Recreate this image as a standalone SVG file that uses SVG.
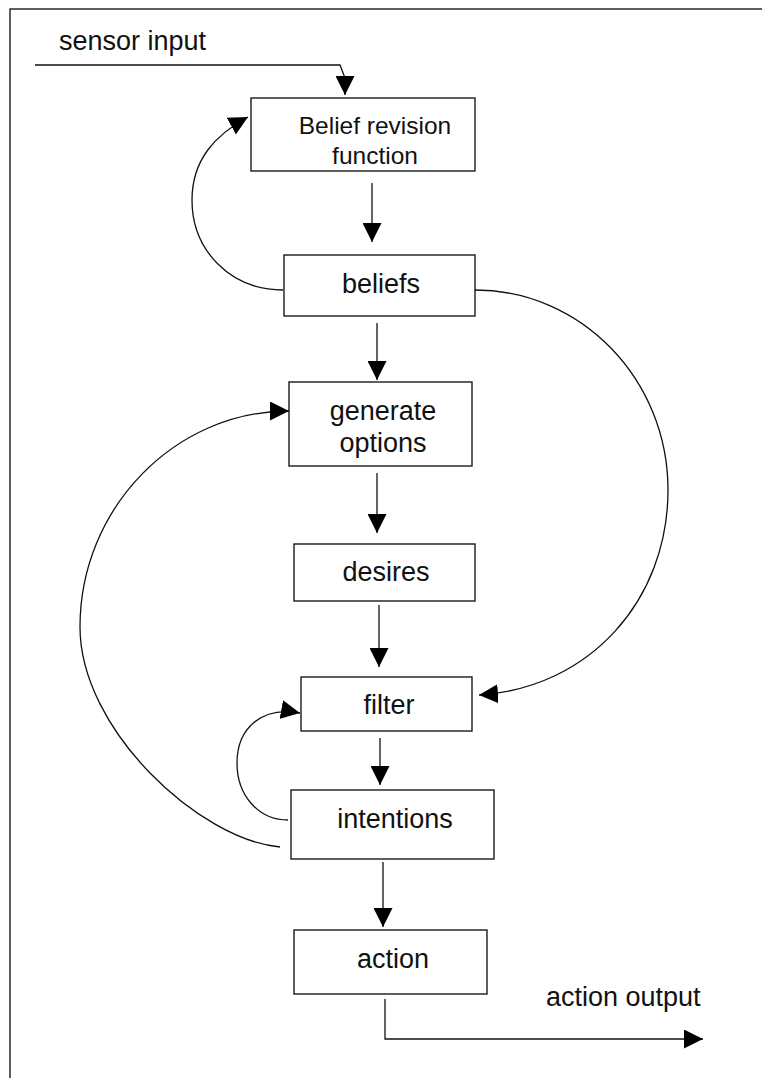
<svg xmlns="http://www.w3.org/2000/svg" width="762" height="1078" viewBox="0 0 762 1078">
  <style>
    .box { fill: #ffffff; stroke: #1a1a1a; stroke-width: 1.4; }
    .lbl { font-family: "Liberation Sans", Arial, sans-serif; font-size: 27px; fill: #111; text-anchor: middle; }
    .small { font-size: 24.5px; }
    .free { text-anchor: start; }
    .edge { fill: none; stroke: #111; stroke-width: 1.3; marker-end: url(#head); }
  </style>
  <defs>
    <marker id="head" viewBox="0 0 19 19" markerUnits="userSpaceOnUse" markerWidth="19" markerHeight="19" refX="19" refY="9.5" orient="auto">
      <path d="M0,0 L19,9.5 L0,19 z" fill="#000"/>
    </marker>
  </defs>

  <rect width="762" height="1078" fill="#ffffff"/>
  <!-- outer frame (right and bottom sides run off the page) -->
  <rect x="10" y="9" width="770" height="1090" fill="none" stroke="#1a1a1a" stroke-width="1.4"/>

  <!-- free labels -->
  <text class="lbl free" x="59" y="50">sensor input</text>
  <text class="lbl free" x="546" y="1006">action output</text>

  <!-- nodes -->
  <g id="brf">
    <rect class="box" x="251" y="98" width="224" height="73"/>
    <text class="lbl small" x="375" y="134">Belief revision</text>
    <text class="lbl small" x="375" y="164">function</text>
  </g>
  <g id="beliefs">
    <rect class="box" x="284" y="255" width="191" height="61"/>
    <text class="lbl" x="381" y="293">beliefs</text>
  </g>
  <g id="generate-options">
    <rect class="box" x="289" y="382" width="183" height="84"/>
    <text class="lbl" x="383" y="420">generate</text>
    <text class="lbl" x="383" y="452">options</text>
  </g>
  <g id="desires">
    <rect class="box" x="294" y="544" width="181" height="57"/>
    <text class="lbl" x="386" y="581">desires</text>
  </g>
  <g id="filter">
    <rect class="box" x="301" y="677" width="171" height="54"/>
    <text class="lbl" x="389" y="714">filter</text>
  </g>
  <g id="intentions">
    <rect class="box" x="291" y="790" width="203" height="69"/>
    <text class="lbl" x="395" y="828">intentions</text>
  </g>
  <g id="action">
    <rect class="box" x="294" y="930" width="193" height="64"/>
    <text class="lbl" x="393" y="968">action</text>
  </g>

  <!-- connectors -->
  <g id="connectors">
    <path class="edge" d="M35,65 L340,65 L345,78 L345,95"/>
    <path class="edge" d="M372,183 V242"/>
    <path class="edge" d="M377,323 V380"/>
    <path class="edge" d="M377,473 V533"/>
    <path class="edge" d="M379,605 V667"/>
    <path class="edge" d="M380,738 V785"/>
    <path class="edge" d="M383,862 V927"/>
    <path class="edge" d="M385,999 V1039 H703"/>
    <!-- beliefs feed back into belief revision -->
    <path class="edge" d="M283,290 C230,290 192,250 192,200 C192,160 215,135 248,117"/>
    <!-- beliefs to filter -->
    <path class="edge" d="M475,290 C582,290 668,380 668,490 C668,600 590,688 479,695"/>
    <!-- intentions back to generate options -->
    <path class="edge" d="M280,847 C200,840 80,730 80,627 C80,508 175,411 289,411"/>
    <!-- intentions back to filter -->
    <path class="edge" d="M288,820 C258,820 237,795 237,763 C237,728 262,706 300,713"/>
  </g>
</svg>
